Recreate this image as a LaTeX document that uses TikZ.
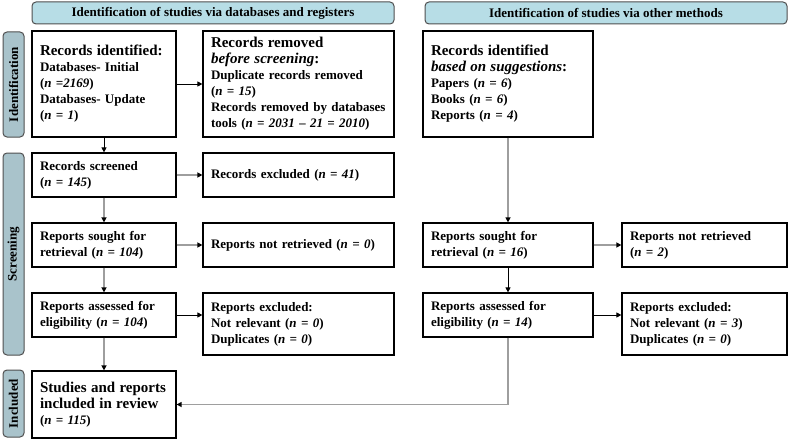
\documentclass[tikz,border=0pt]{standalone}
\usepackage{fontspec}
\setmainfont{Liberation Serif}
\usetikzlibrary{arrows.meta,calc}
\definecolor{hdrfill}{HTML}{B7DDE6}
\definecolor{sidefill}{HTML}{A9C3CB}
\definecolor{hdrline}{HTML}{4F4F4F}
\definecolor{linegray}{HTML}{9E9E9E}
\newcommand\lgtxt{\fontsize{15}{17}\selectfont}
\begin{document}
\begin{tikzpicture}[x=1pt,y=-1pt,
  box/.style={draw=black,line width=1.2pt,fill=white,inner xsep=8pt,inner ysep=2pt,
    align=left,font=\bfseries\fontsize{13}{16}\selectfont,anchor=center},
  hdr/.style={draw=hdrline,fill=hdrfill,rounded corners=4pt,line width=1pt,
    minimum width=362pt,minimum height=22pt,inner sep=0pt,
    font=\bfseries\fontsize{13}{15}\selectfont},
  side/.style={draw=hdrline,fill=sidefill,rounded corners=4pt,line width=1pt,
    minimum height=21pt,inner sep=0pt,rotate=90,
    font=\bfseries\fontsize{13}{15}\selectfont},
  blk/.style={line width=0.9pt,draw=black,-{Triangle[length=5pt,width=5pt]}},
  gry/.style={line width=1.5pt,draw=linegray,-{Triangle[length=5pt,width=5pt,color=black,fill=black]}}
]
\useasboundingbox (0,0) rectangle (789,441);

% headers
\node[hdr] (hA) at (213,13) {Identification of studies via databases and registers};
\node[hdr] (hB) at (606,13) {Identification of studies via other methods};

% side bars
\node[side,minimum width=105pt] (sI) at (13.5,84.5) {Identification};
\node[side,minimum width=202pt] (sS) at (13.5,254) {Screening};
\node[side,minimum width=67pt] (sN) at (13.5,403.5) {Included};

% left column
\node[box,minimum width=144pt,minimum height=106pt,text width=128pt] (idA) at (104,84)
  {{\lgtxt Records identified:}\\Databases- Initial\\(\textit{n =2169})\\Databases- Update\\(\textit{n = 1})};
\node[box,minimum width=191pt,minimum height=106pt,text width=175pt] (remA) at (298.5,84)
  {{\lgtxt Records removed}\\{\lgtxt\textit{before screening}:}\\Duplicate records removed\\(\textit{n = 15})\\Records removed by databases\\tools (\textit{n = 2031 – 21 = 2010})};
\node[box,minimum width=144pt,minimum height=44pt,text width=128pt] (scr) at (104,175)
  {Records screened\\(\textit{n = 145})};
\node[box,minimum width=191pt,minimum height=44pt,text width=175pt] (exc) at (298.5,175)
  {Records excluded (\textit{n = 41})};
\node[box,minimum width=144pt,minimum height=44pt,text width=128pt] (sgA) at (104,245)
  {Reports sought for\\retrieval (\textit{n = 104})};
\node[box,minimum width=191pt,minimum height=44pt,text width=175pt] (ntA) at (298.5,245)
  {Reports not retrieved (\textit{n = 0})};
\node[box,minimum width=144pt,minimum height=44pt,text width=128pt] (asA) at (104,315)
  {Reports assessed for\\eligibility (\textit{n = 104})};
\node[box,minimum width=191pt,minimum height=62pt,text width=175pt] (exA) at (298.5,324)
  {Reports excluded:\\Not relevant (\textit{n = 0})\\Duplicates (\textit{n = 0})};
\node[box,minimum width=144pt,minimum height=67pt,text width=128pt] (stud) at (104,404.5)
  {{\lgtxt Studies and reports}\\{\lgtxt included in review}\\(\textit{n = 115})};

% right column
\node[box,minimum width=170pt,minimum height=106pt,text width=154pt] (idB) at (508,84)
  {{\lgtxt Records identified}\\{\lgtxt\textit{based on suggestions}:}\\Papers (\textit{n = 6})\\Books (\textit{n = 6})\\Reports (\textit{n = 4})};
\node[box,minimum width=170pt,minimum height=44pt,text width=154pt] (sgB) at (508,245)
  {Reports sought for\\retrieval (\textit{n = 16})};
\node[box,minimum width=165pt,minimum height=44pt,text width=149pt] (ntB) at (704.5,245)
  {Reports not retrieved\\(\textit{n = 2})};
\node[box,minimum width=170pt,minimum height=44pt,text width=154pt] (asB) at (508,315)
  {Reports assessed for\\eligibility (\textit{n = 14})};
\node[box,minimum width=165pt,minimum height=62pt,text width=149pt] (exB) at (704.5,324)
  {Reports excluded:\\Not relevant (\textit{n = 3})\\Duplicates (\textit{n = 0})};

% connectors
\draw[blk] (idA.south) -- (scr.north);
\draw[blk] (idA.east) -- (remA.west);
\draw[gry] (scr.east) -- (exc.west);
\draw[gry] (scr.south) -- (sgA.north);
\draw[gry] (sgA.east) -- (ntA.west);
\draw[gry] (sgA.south) -- (asA.north);
\draw[blk] (asA.east) -- (asA.east -| exA.west);
\draw[gry] (asA.south) -- (stud.north);
\draw[gry] (idB.south) -- (sgB.north);
\draw[gry] (sgB.east) -- (ntB.west);
\draw[blk] (sgB.south) -- (asB.north);
\draw[blk] (asB.east) -- (asB.east -| exB.west);
\draw[gry] (asB.south) -- (asB.south |- stud.east) -- (stud.east);
\end{tikzpicture}
\end{document}
